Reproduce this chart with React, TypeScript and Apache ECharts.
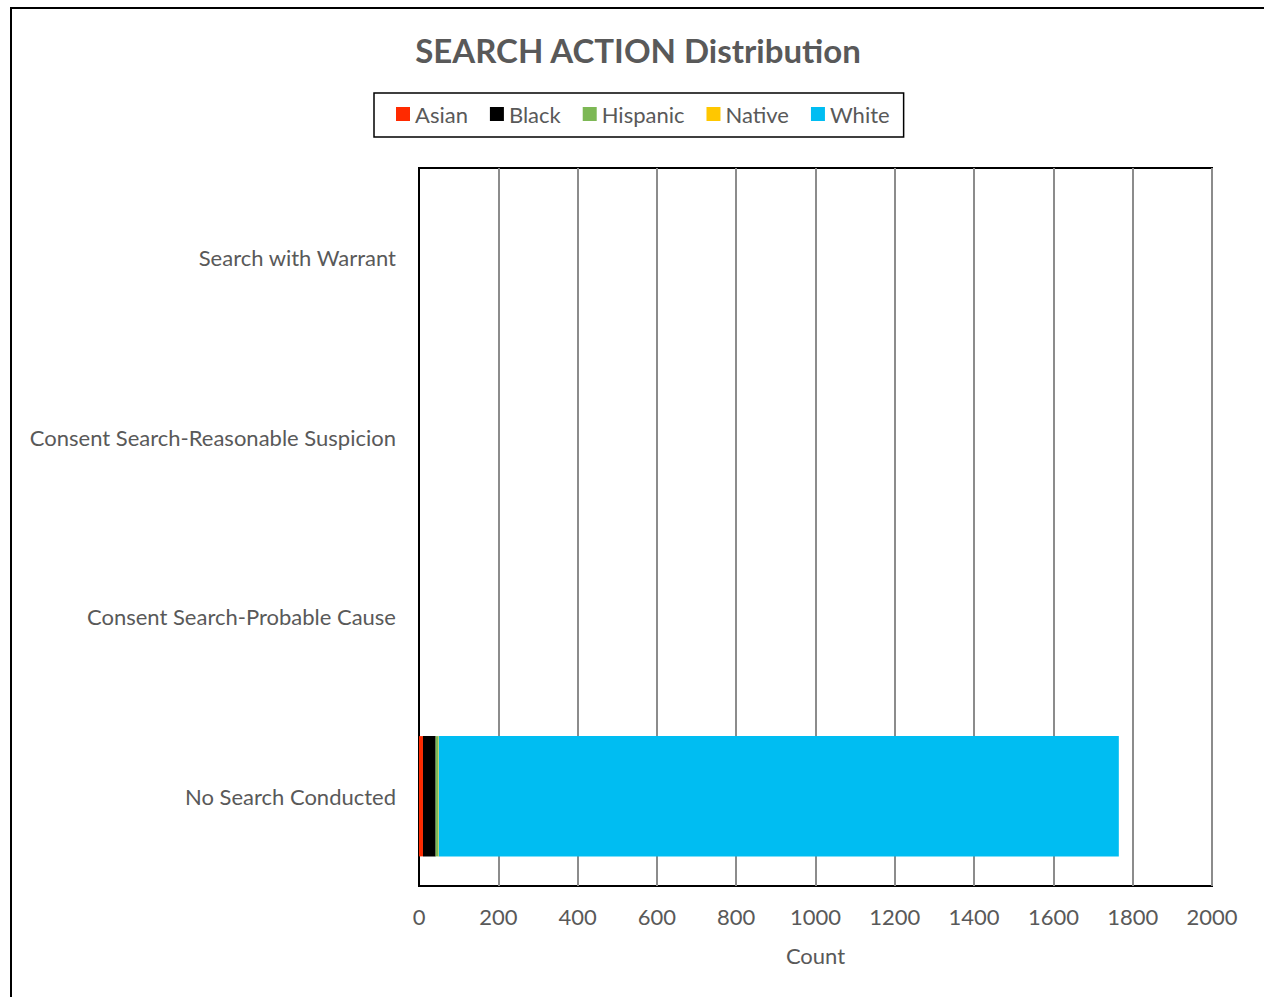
import React, { useEffect, useRef } from "react";
import * as echarts from "echarts";

const categories = [
  "No Search Conducted",
  "Consent Search-Probable Cause",
  "Consent Search-Reasonable Suspicion",
  "Search with Warrant",
];
const asian = [10, 0, 0, 0];
const black = [32, 0, 0, 0];
const hispanic = [7, 0, 0, 0];
const native = [1, 0, 0, 0];
const white = [1715, 0, 0, 0];

const seriesNames = ["Asian", "Black", "Hispanic", "Native", "White"];
const seriesData = [asian, black, hispanic, native, white];
const colors = ["#FF2A00", "#000000", "#7DB855", "#FFC700", "#00BDF2"];

const FONT = "Lato, 'Open Sans', sans-serif";
const GREY = "#595959";

export default function App() {
  const ref = useRef<HTMLDivElement>(null);
  useEffect(() => {
    if (!ref.current) return;
    const chart = echarts.init(ref.current, undefined, { renderer: "svg" });
    chart.setOption({
      animation: false,
      backgroundColor: "#ffffff",
      textStyle: { fontFamily: FONT },
      title: {
        text: "SEARCH ACTION Distribution",
        left: 633,
        top: 28,
        textAlign: "center",
        textStyle: { fontFamily: FONT, fontSize: 33, fontWeight: "bold", color: GREY },
      },
      legend: {
        data: seriesNames,
        left: 374,
        top: 93,
        padding: [10, 14, 12, 22],
        borderColor: "#000",
        borderWidth: 1.5,
        itemWidth: 14,
        itemHeight: 14,
        itemGap: 22,
        icon: "rect",
        textStyle: { fontFamily: FONT, fontSize: 22, color: GREY },
      },
      graphic: [
        {
          type: "rect",
          shape: { x: 11, y: 8, width: 1400, height: 1200 },
          style: { fill: "none", stroke: "#000", lineWidth: 2 },
          silent: true,
          z: 100,
        },
      ],
      grid: {
        left: 419,
        right: 52,
        top: 168,
        bottom: 111,
        show: true,
        borderColor: "#000",
        borderWidth: 2,
        containLabel: false,
      },
      xAxis: {
        type: "value",
        min: 0,
        max: 2000,
        interval: 200,
        name: "Count",
        nameLocation: "middle",
        nameGap: 58,
        nameTextStyle: { fontFamily: FONT, fontSize: 22, color: GREY },
        axisLine: { show: false },
        axisTick: { show: false },
        axisLabel: {
          fontFamily: FONT,
          fontSize: 22,
          color: GREY,
          margin: 19,
          formatter: (v: number) => String(v),
        },
        splitLine: { show: true, lineStyle: { color: "#8c8c8c", width: 2 } },
      },
      yAxis: {
        type: "category",
        data: categories,
        axisLine: { show: true, lineStyle: { color: "#000", width: 2 } },
        axisTick: { show: false },
        axisLabel: { fontFamily: FONT, fontSize: 22, color: GREY, margin: 23 },
        splitLine: { show: false },
      },
      series: seriesNames.map((name, i) => ({
        name,
        type: "bar",
        stack: "total",
        data: seriesData[i],
        barWidth: "67%",
        itemStyle: { color: colors[i] },
      })),
    });
    return () => chart.dispose();
  }, []);
  return (
    <div
      ref={ref}
      style={{ position: "fixed", left: 0, top: 0, width: 1264, height: 997 }}
    />
  );
}
